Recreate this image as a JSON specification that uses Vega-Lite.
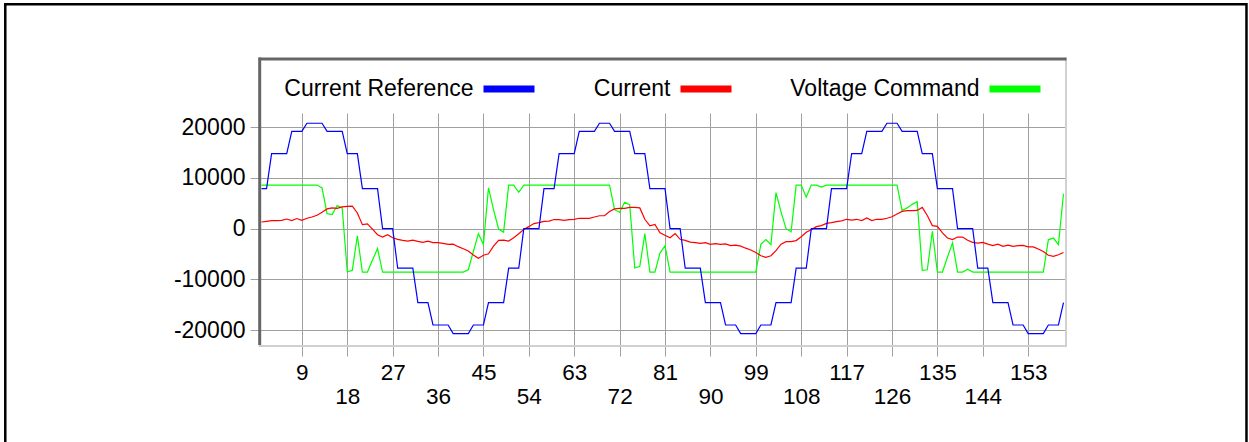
{
  "$schema": "https://vega.github.io/schema/vega-lite/v6.json",
  "width": 805,
  "height": 232,
  "autosize": {"type": "none"},
  "padding": {"left": 260, "top": 113, "right": 184, "bottom": 97},
  "background": "white",
  "config": {"view": {"stroke": null}, "font": "Liberation Sans",
    "axisX": {"domain": false, "grid": true, "gridColor": "#a0a0a0", "gridWidth": 1, "tickColor": "#a0a0a0", "tickSize": 11, "labelFontSize": 22.5, "labelFont": "Liberation Sans", "labelColor": "#000000", "labelPadding": 5, "labelOverlap": false, "labelFlush": false, "labelBound": false, "labelBaseline": "top", "labelLineHeight": 24},
    "axisY": {"domain": false, "grid": true, "gridColor": "#a0a0a0", "gridWidth": 1, "tickColor": "#a0a0a0", "tickSize": 10, "labelPadding": 5, "labelFontSize": 23, "labelFont": "Liberation Sans", "labelColor": "#000000"}
  },
  "data": {"values": [
{"x":1,"r":7900,"c":1320,"v":8600},{"x":2,"r":7900,"c":1450,"v":8600},{"x":3,"r":14800,"c":1580,"v":8600},{"x":4,"r":14800,"c":1580,"v":8600},{"x":5,"r":14800,"c":1650,"v":8600},{"x":6,"r":14800,"c":1900,"v":8600},{"x":7,"r":19200,"c":1600,"v":8600},{"x":8,"r":19200,"c":2000,"v":8600},{"x":9,"r":19200,"c":1650,"v":8600},{"x":10,"r":20800,"c":2050,"v":8600},
{"x":11,"r":20800,"c":2300,"v":8600},{"x":12,"r":20800,"c":2650,"v":8600},{"x":13,"r":20800,"c":3250,"v":8040},{"x":14,"r":19200,"c":3900,"v":2960},{"x":15,"r":19200,"c":4100,"v":2770},{"x":16,"r":19200,"c":4000,"v":4550},{"x":17,"r":19200,"c":4300,"v":4080},{"x":18,"r":14800,"c":4400,"v":-8500},{"x":19,"r":14800,"c":4450,"v":-8240},{"x":20,"r":14800,"c":3100,"v":-1400},
{"x":21,"r":7900,"c":800,"v":-8560},{"x":22,"r":7900,"c":950,"v":-8560},{"x":23,"r":7900,"c":-100,"v":-6200},{"x":24,"r":7900,"c":-1200,"v":-3900},{"x":25,"r":0,"c":-1650,"v":-8560},{"x":26,"r":0,"c":-1200,"v":-8560},{"x":27,"r":0,"c":-1800,"v":-8560},{"x":28,"r":-7800,"c":-2100,"v":-8560},{"x":29,"r":-7800,"c":-2300,"v":-8560},{"x":30,"r":-7800,"c":-2450,"v":-8560},
{"x":31,"r":-7800,"c":-2250,"v":-8560},{"x":32,"r":-14600,"c":-2500,"v":-8560},{"x":33,"r":-14600,"c":-2700,"v":-8560},{"x":34,"r":-14600,"c":-2450,"v":-8560},{"x":35,"r":-19000,"c":-2750,"v":-8560},{"x":36,"r":-19000,"c":-2750,"v":-8560},{"x":37,"r":-19000,"c":-2900,"v":-8560},{"x":38,"r":-19000,"c":-3100,"v":-8560},{"x":39,"r":-20700,"c":-3050,"v":-8560},{"x":40,"r":-20700,"c":-3550,"v":-8560},
{"x":41,"r":-20700,"c":-3950,"v":-8560},{"x":42,"r":-20700,"c":-4400,"v":-8100},{"x":43,"r":-19000,"c":-5200,"v":-4500},{"x":44,"r":-19000,"c":-5850,"v":-990},{"x":45,"r":-19000,"c":-5250,"v":-3100},{"x":46,"r":-14600,"c":-4950,"v":8040},{"x":47,"r":-14600,"c":-3450,"v":3750},{"x":48,"r":-14600,"c":-2300,"v":-70},{"x":49,"r":-14600,"c":-2250,"v":-690},{"x":50,"r":-7800,"c":-2450,"v":8600},
{"x":51,"r":-7800,"c":-1800,"v":8600},{"x":52,"r":-7800,"c":-1000,"v":7180},{"x":53,"r":0,"c":-150,"v":8600},{"x":54,"r":0,"c":400,"v":8600},{"x":55,"r":0,"c":1000,"v":8600},{"x":56,"r":0,"c":1200,"v":8600},{"x":57,"r":7900,"c":1450,"v":8600},{"x":58,"r":7900,"c":1500,"v":8600},{"x":59,"r":7900,"c":1800,"v":8600},{"x":60,"r":14800,"c":1800,"v":8600},
{"x":61,"r":14800,"c":1650,"v":8600},{"x":62,"r":14800,"c":1800,"v":8600},{"x":63,"r":14800,"c":1850,"v":8600},{"x":64,"r":19200,"c":2050,"v":8600},{"x":65,"r":19200,"c":2050,"v":8600},{"x":66,"r":19200,"c":2050,"v":8600},{"x":67,"r":19200,"c":2300,"v":8600},{"x":68,"r":20800,"c":2550,"v":8600},{"x":69,"r":20800,"c":2550,"v":8600},{"x":70,"r":20800,"c":3400,"v":8600},
{"x":71,"r":19200,"c":3900,"v":3750},{"x":72,"r":19200,"c":4000,"v":3230},{"x":73,"r":19200,"c":4000,"v":5200},{"x":74,"r":19200,"c":4200,"v":4740},{"x":75,"r":14800,"c":4200,"v":-7770},{"x":76,"r":14800,"c":4100,"v":-7440},{"x":77,"r":14800,"c":1850,"v":-990},{"x":78,"r":7900,"c":550,"v":-8560},{"x":79,"r":7900,"c":850,"v":-8560},{"x":80,"r":7900,"c":-800,"v":-4810},
{"x":81,"r":7900,"c":-1300,"v":-3360},{"x":82,"r":0,"c":-1800,"v":-8560},{"x":83,"r":0,"c":-950,"v":-8560},{"x":84,"r":0,"c":-2100,"v":-8560},{"x":85,"r":-7800,"c":-2300,"v":-8560},{"x":86,"r":-7800,"c":-2650,"v":-8560},{"x":87,"r":-7800,"c":-2750,"v":-8560},{"x":88,"r":-7800,"c":-2900,"v":-8560},{"x":89,"r":-14600,"c":-2750,"v":-8560},{"x":90,"r":-14600,"c":-3100,"v":-8560},
{"x":91,"r":-14600,"c":-2950,"v":-8560},{"x":92,"r":-14600,"c":-3100,"v":-8560},{"x":93,"r":-19000,"c":-3000,"v":-8560},{"x":94,"r":-19000,"c":-3350,"v":-8560},{"x":95,"r":-19000,"c":-3250,"v":-8560},{"x":96,"r":-20700,"c":-3450,"v":-8560},{"x":97,"r":-20700,"c":-3850,"v":-8560},{"x":98,"r":-20700,"c":-4200,"v":-8560},{"x":99,"r":-20700,"c":-4700,"v":-8560},{"x":100,"r":-19000,"c":-5350,"v":-3100},
{"x":101,"r":-19000,"c":-5650,"v":-2150},{"x":102,"r":-19000,"c":-5350,"v":-3150},{"x":103,"r":-14600,"c":-4350,"v":7100},{"x":104,"r":-14600,"c":-3050,"v":3300},{"x":105,"r":-14600,"c":-2550,"v":0},{"x":106,"r":-14600,"c":-2550,"v":-600},{"x":107,"r":-7800,"c":-2350,"v":8600},{"x":108,"r":-7800,"c":-1600,"v":8600},{"x":109,"r":-7800,"c":-700,"v":6200},{"x":110,"r":0,"c":-200,"v":8600},
{"x":111,"r":0,"c":400,"v":8600},{"x":112,"r":0,"c":600,"v":8200},{"x":113,"r":0,"c":1050,"v":8600},{"x":114,"r":7900,"c":1200,"v":8600},{"x":115,"r":7900,"c":1400,"v":8600},{"x":116,"r":7900,"c":1550,"v":8600},{"x":117,"r":7900,"c":1850,"v":8600},{"x":118,"r":14800,"c":1700,"v":8600},{"x":119,"r":14800,"c":1850,"v":8600},{"x":120,"r":14800,"c":1600,"v":8600},
{"x":121,"r":19200,"c":2100,"v":8600},{"x":122,"r":19200,"c":1600,"v":8600},{"x":123,"r":19200,"c":1850,"v":8600},{"x":124,"r":19200,"c":1850,"v":8600},{"x":125,"r":20800,"c":2050,"v":8600},{"x":126,"r":20800,"c":2350,"v":8600},{"x":127,"r":20800,"c":2900,"v":8600},{"x":128,"r":19200,"c":3400,"v":3600},{"x":129,"r":19200,"c":3550,"v":4100},{"x":130,"r":19200,"c":3550,"v":4800},
{"x":131,"r":19200,"c":3600,"v":5300},{"x":132,"r":14800,"c":4200,"v":-8200},{"x":133,"r":14800,"c":2600,"v":-8100},{"x":134,"r":14800,"c":600,"v":-500},{"x":135,"r":7900,"c":450,"v":-8560},{"x":136,"r":7900,"c":-850,"v":-8560},{"x":137,"r":7900,"c":-1850,"v":-5600},{"x":138,"r":7900,"c":-2150,"v":-2800},{"x":139,"r":0,"c":-1650,"v":-8560},{"x":140,"r":0,"c":-1650,"v":-8560},
{"x":141,"r":0,"c":-2300,"v":-8000},{"x":142,"r":0,"c":-2700,"v":-8560},{"x":143,"r":-7800,"c":-2850,"v":-8560},{"x":144,"r":-7800,"c":-2700,"v":-8560},{"x":145,"r":-7800,"c":-3050,"v":-8560},{"x":146,"r":-14600,"c":-3350,"v":-8560},{"x":147,"r":-14600,"c":-3050,"v":-8560},{"x":148,"r":-14600,"c":-3500,"v":-8560},{"x":149,"r":-14600,"c":-3250,"v":-8560},{"x":150,"r":-19000,"c":-3500,"v":-8560},
{"x":151,"r":-19000,"c":-3350,"v":-8560},{"x":152,"r":-19000,"c":-3300,"v":-8560},{"x":153,"r":-20700,"c":-3600,"v":-8560},{"x":154,"r":-20700,"c":-3600,"v":-8560},{"x":155,"r":-20700,"c":-4000,"v":-8560},{"x":156,"r":-20700,"c":-4500,"v":-8560},{"x":157,"r":-19000,"c":-5250,"v":-2200},{"x":158,"r":-19000,"c":-5450,"v":-1850},{"x":159,"r":-19000,"c":-5150,"v":-3150},{"x":160,"r":-14600,"c":-4700,"v":6900}
  ]},
  "layer": [
    {
      "mark": {"type": "line", "color": "#00ff00", "strokeWidth": 1.2},
      "encoding": {
        "x": {"field": "x", "type": "quantitative", "scale": {"domain": [0.7, 160.3], "nice": false, "zero": false},
          "axis": {"values": [9,18,27,36,45,54,63,72,81,90,99,108,117,126,135,144,153], "title": null, "labelExpr": "(datum.value / 9) % 2 == 0 ? ['', datum.label] : datum.label"}},
        "y": {"field": "v", "type": "quantitative", "scale": {"domain": [-22950, 22820], "nice": false, "zero": false},
          "axis": {"values": [-20000,-10000,0,10000,20000], "title": null, "labelExpr": "'' + datum.value"}},
        "color": {"datum": "Voltage Command", "scale": {"domain": ["Current Reference", "Current", "Voltage Command"], "range": ["#0000ff", "#ff0000", "#00ff00"]},
          "legend": {"title": null, "orient": "none", "legendX": 195, "legendY": -78, "direction": "horizontal", "symbolType": "stroke", "symbolSize": 2601, "symbolStrokeWidth": 7, "labelAlign": "right", "labelOffset": -64.5, "labelFontSize": 23, "labelFont": "Liberation Sans", "labelColor": "#000000", "labelLimit": 0, "columnPadding": 44, "padding": 25}}
      }
    },
    {
      "mark": {"type": "line", "color": "#ff0000", "strokeWidth": 1.2},
      "encoding": {
        "x": {"field": "x", "type": "quantitative",
          "axis": {"values": [9,18,27,36,45,54,63,72,81,90,99,108,117,126,135,144,153], "title": null, "labelExpr": "(datum.value / 9) % 2 == 0 ? ['', datum.label] : datum.label"}},
        "y": {"field": "c", "type": "quantitative",
          "axis": {"values": [-20000,-10000,0,10000,20000], "title": null, "labelExpr": "'' + datum.value"}},
        "color": {"datum": "Current"}
      }
    },
    {
      "mark": {"type": "line", "color": "#0000ff", "strokeWidth": 1.2},
      "encoding": {
        "x": {"field": "x", "type": "quantitative",
          "axis": {"values": [9,18,27,36,45,54,63,72,81,90,99,108,117,126,135,144,153], "title": null, "labelExpr": "(datum.value / 9) % 2 == 0 ? ['', datum.label] : datum.label"}},
        "y": {"field": "r", "type": "quantitative",
          "axis": {"values": [-20000,-10000,0,10000,20000], "title": null, "labelExpr": "'' + datum.value"}},
        "color": {"datum": "Current Reference"}
      }
    },
    {
      "data": {"values": [{}]},
      "mark": {"type": "rule", "color": "#d0d0d0", "strokeWidth": 2},
      "encoding": {"x": {"datum": 0.44, "title": null}, "x2": {"datum": 160.5}, "y": {"datum": -23150, "title": null}}
    },
    {
      "data": {"values": [{}]},
      "mark": {"type": "rule", "color": "#d0d0d0", "strokeWidth": 2},
      "encoding": {"x": {"datum": 160.5, "title": null}, "y": {"datum": -23350, "title": null}, "y2": {"datum": 33780}}
    },
    {
      "data": {"values": [{}]},
      "mark": {"type": "rule", "color": "#666666", "strokeWidth": 3},
      "encoding": {"x": {"datum": 0.44, "title": null}, "x2": {"datum": 160.6}, "y": {"datum": 33480, "title": null}}
    },
    {
      "data": {"values": [{}]},
      "mark": {"type": "rule", "color": "#666666", "strokeWidth": 3},
      "encoding": {"x": {"datum": 0.64, "title": null}, "y": {"datum": -22950, "title": null}, "y2": {"datum": 33780}}
    },
    {
      "data": {"values": [{}]},
      "mark": {"type": "rect", "filled": false, "stroke": "#000000", "strokeWidth": 2.5},
      "encoding": {"x": {"datum": -49.8, "title": null}, "x2": {"datum": 196.28}, "y": {"datum": 44267, "title": null}, "y2": {"datum": -45000}}
    }
  ]
}
